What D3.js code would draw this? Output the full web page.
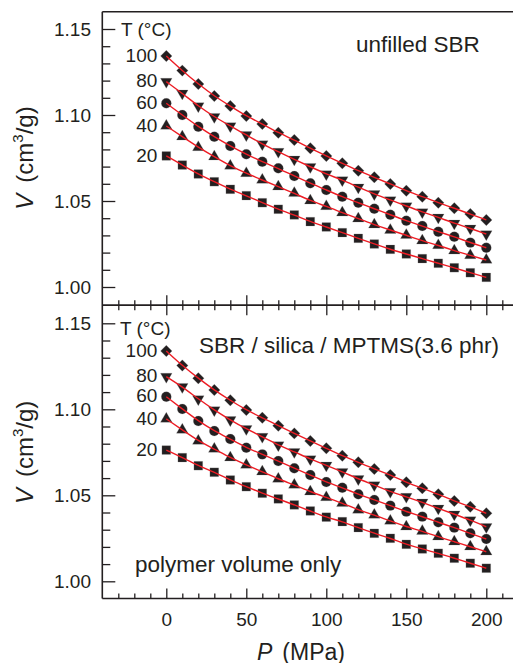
<!DOCTYPE html>
<html><head><meta charset="utf-8">
<script src="https://cdn.jsdelivr.net/npm/d3@7"></script>
<style>
body{margin:0;background:#fff}
svg{display:block}
text{font-family:"Liberation Sans",Arial,Helvetica,sans-serif;fill:#231f20}
</style>
</head><body>
<svg id="c" width="513" height="663"></svg>
<script>
// ---------- data ----------
const pressures = [0,10,20,30,40,50,60,70,80,90,100,110,120,130,140,150,160,170,180,190,200];
const temperatures = [20,40,60,80,100];

// unfilled SBR (top panel)
const topT20  = [1.0762,1.0709,1.0657,1.0612,1.0568,1.0531,1.0490,1.0452,1.0419,1.0380,1.0349,1.0316,1.0283,1.0250,1.0219,1.0192,1.0165,1.0138,1.0112,1.0083,1.0056];
const topT40  = [1.0936,1.0874,1.0812,1.0758,1.0704,1.0661,1.0622,1.0583,1.0545,1.0502,1.0469,1.0432,1.0397,1.0362,1.0331,1.0301,1.0269,1.0242,1.0211,1.0184,1.0157];
const topT60  = [1.1068,1.1000,1.0932,1.0874,1.0820,1.0772,1.0728,1.0690,1.0645,1.0603,1.0564,1.0525,1.0490,1.0455,1.0420,1.0385,1.0355,1.0321,1.0292,1.0258,1.0228];
const topT80  = [1.1194,1.1126,1.1052,1.0990,1.0936,1.0884,1.0831,1.0787,1.0742,1.0699,1.0657,1.0622,1.0580,1.0541,1.0506,1.0471,1.0436,1.0405,1.0370,1.0341,1.0308];
const topT100 = [1.1343,1.1258,1.1180,1.1110,1.1052,1.0994,1.0948,1.0897,1.0855,1.0806,1.0762,1.0719,1.0676,1.0638,1.0599,1.0560,1.0525,1.0490,1.0458,1.0424,1.0390];

// SBR / silica / MPTMS (bottom panel)
const botT20  = [1.0763,1.0719,1.0672,1.0634,1.0589,1.0550,1.0512,1.0479,1.0444,1.0409,1.0373,1.0347,1.0312,1.0279,1.0250,1.0215,1.0188,1.0163,1.0134,1.0105,1.0076];
const botT40  = [1.0944,1.0880,1.0816,1.0769,1.0719,1.0676,1.0637,1.0595,1.0560,1.0521,1.0488,1.0454,1.0415,1.0386,1.0351,1.0317,1.0292,1.0259,1.0230,1.0201,1.0172];
const botT60  = [1.1073,1.1002,1.0932,1.0874,1.0827,1.0777,1.0738,1.0699,1.0657,1.0618,1.0577,1.0544,1.0506,1.0473,1.0440,1.0405,1.0376,1.0343,1.0312,1.0279,1.0246];
const botT80  = [1.1190,1.1131,1.1060,1.0996,1.0938,1.0886,1.0841,1.0792,1.0753,1.0711,1.0674,1.0637,1.0595,1.0560,1.0521,1.0492,1.0459,1.0424,1.0390,1.0356,1.0317];
const botT100 = [1.1339,1.1254,1.1180,1.1112,1.1052,1.0996,1.0951,1.0905,1.0860,1.0816,1.0773,1.0730,1.0692,1.0653,1.0618,1.0576,1.0541,1.0506,1.0467,1.0434,1.0395];

const yMajorTicks = [1.00,1.05,1.10,1.15];
const yMinorTicks = [1.01,1.02,1.03,1.04,1.06,1.07,1.08,1.09,1.11,1.12,1.13,1.14];
const xMajorTicks = [0,50,100,150,200];
const xMinorTicks = [-30,-20,-10,10,20,30,40,60,70,80,90,110,120,130,140,160,170,180,190,210];

// ---------- layout ----------
const ink = "#231f20", red = "#ec1c24";
const svg = d3.select("#c");
const x = d3.scaleLinear().domain([-40,220]).range([102.3,518.3]);
const xLeft = x(-40);
const divider = 305.15;

const panels = [
  {top:11.8, bottom:304.2, series:[topT20,topT40,topT60,topT80,topT100],
   tLabel:[121,36], texts:[{t:"unfilled SBR", x:356, y:51.7}], showTop:false, showXLabels:false},
  {top:306.1, bottom:598.5, series:[botT20,botT40,botT60,botT80,botT100],
   tLabel:[120,335], texts:[{t:"SBR / silica / MPTMS(3.6 phr)", x:199, y:353.3},{t:"polymer volume only", x:135, y:571.7}],
   showTop:true, showXLabels:true}
];

const symbols = [
  {type:d3.symbolSquare, size:76, rot:0},
  {type:d3.symbolTriangle, size:58, rot:0},
  {type:d3.symbolCircle, size:78, rot:0},
  {type:d3.symbolTriangle, size:58, rot:180},
  {type:d3.symbolSquare, size:66, rot:45}
];

const styleAxis = s => { s.select(".domain").remove(); s.selectAll("line").attr("stroke",ink).attr("stroke-width",1.3);
  s.selectAll("text").attr("font-size",19).attr("fill",ink).style("font-family",'"Liberation Sans",Arial,sans-serif'); };

panels.forEach((p, pi) => {
  const y = d3.scaleLinear().domain([0.99,1.16]).range([p.bottom, p.top]);
  const g = svg.append("g");

  // y axis minor + major (inward)
  g.append("g").attr("transform",`translate(${xLeft},0)`)
    .call(d3.axisLeft(y).tickValues(yMinorTicks).tickSize(-8).tickFormat("")).call(styleAxis);
  g.append("g").attr("transform",`translate(${xLeft},0)`)
    .call(d3.axisLeft(y).tickValues(yMajorTicks).tickSize(-13).tickPadding(11.3).tickFormat(d3.format(".2f"))).call(styleAxis);

  // x axes
  const yAxisPos = pi===0 ? divider : 598.5;
  g.append("g").attr("transform",`translate(0,${yAxisPos})`)
    .call(d3.axisBottom(x).tickValues(xMinorTicks).tickSize(-5).tickFormat("")).call(styleAxis);
  g.append("g").attr("transform",`translate(0,${yAxisPos})`)
    .call(d3.axisBottom(x).tickValues(xMajorTicks).tickSize(-10).tickPadding(14)
      .tickFormat(p.showXLabels ? d3.format("d") : "")).call(styleAxis);
  if (p.showTop) {
    g.append("g").attr("transform",`translate(0,${divider})`)
      .call(d3.axisTop(x).tickValues(xMinorTicks).tickSize(-5).tickFormat("")).call(styleAxis);
    g.append("g").attr("transform",`translate(0,${divider})`)
      .call(d3.axisTop(x).tickValues(xMajorTicks).tickSize(-10).tickFormat("")).call(styleAxis);
  }

  // markers
  p.series.forEach((vals, si) => {
    const sym = symbols[si];
    const path = d3.symbol().type(sym.type).size(sym.size)();
    g.append("g").selectAll("path").data(vals).join("path")
      .attr("d", path)
      .attr("transform",(v,i)=>`translate(${x(pressures[i])},${y(v)}) rotate(${sym.rot})`)
      .attr("fill", ink).attr("stroke","#8a8a8a").attr("stroke-width",0.4).attr("stroke-opacity",0.6);
  });
  // fit lines
  const line = d3.line().x((v,i)=>x(pressures[i])).y(v=>y(v)).curve(d3.curveBasis);
  p.series.forEach(vals => {
    g.append("path").attr("d", line(vals)).attr("fill","none").attr("stroke",red).attr("stroke-width",1.4);
  });

  // temperature labels
  p.series.forEach((vals, si) => {
    g.append("text").attr("x", x(0)-9).attr("y", y(vals[0])).attr("dy","0.3em")
      .attr("text-anchor","end").attr("font-size",19).text(temperatures[si]);
  });
  g.append("text").attr("x",p.tLabel[0]).attr("y",p.tLabel[1]).attr("font-size",19).text("T (°C)");
  p.texts.forEach(t => g.append("text").attr("x",t.x).attr("y",t.y).attr("font-size",22.5).text(t.t));

  // y axis title
  const cy = (p.top + p.bottom)/2;
  const yt = g.append("text").attr("transform",`translate(33,${cy}) rotate(-90)`)
    .attr("text-anchor","middle").attr("font-size",24);
  yt.append("tspan").attr("font-style","italic").text("V");
  yt.append("tspan").attr("dx",11).text("(cm");
  yt.append("tspan").attr("font-size",15).attr("dy",-10).text("3");
  yt.append("tspan").attr("dy",10).text("/g)");
});

// frame lines
const frame = svg.append("g").attr("stroke",ink).attr("stroke-width",1.6).attr("fill","none");
frame.append("line").attr("x1",xLeft).attr("x2",xLeft).attr("y1",11.8).attr("y2",598.5);
frame.append("line").attr("x1",xLeft).attr("x2",513).attr("y1",11.8).attr("y2",11.8);
frame.append("line").attr("x1",xLeft).attr("x2",513).attr("y1",divider).attr("y2",divider);
frame.append("line").attr("x1",xLeft).attr("x2",513).attr("y1",598.5).attr("y2",598.5);

// x axis title
const xt = svg.append("text").attr("x",301).attr("y",659.5).attr("text-anchor","middle").attr("font-size",23);
xt.append("tspan").attr("font-style","italic").text("P");
xt.append("tspan").attr("dx",10).text("(MPa)");
</script>
</body></html>
